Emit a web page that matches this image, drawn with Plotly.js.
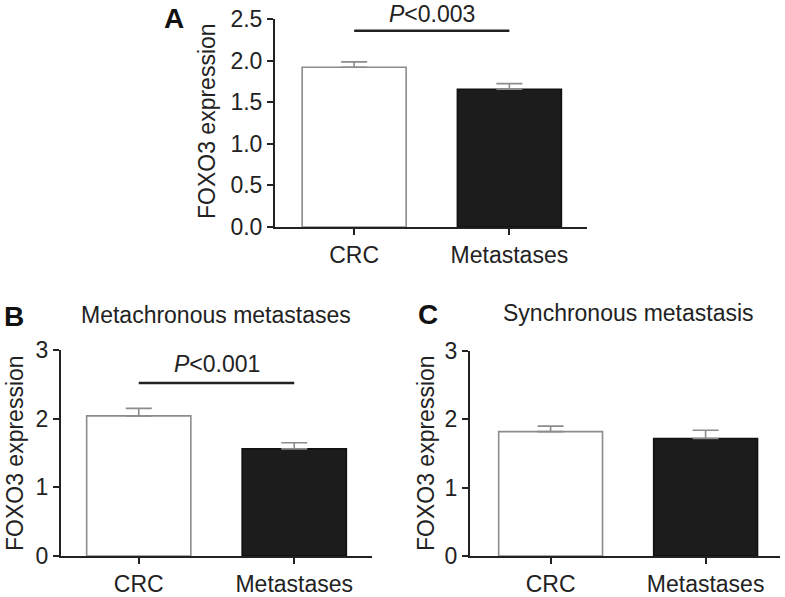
<!DOCTYPE html>
<html>
<head>
<meta charset="utf-8">
<script src="https://cdn.plot.ly/plotly-3.0.1.min.js"></script>
<style>html,body{margin:0;padding:0;background:#fff;}#chart{width:785px;height:597px;}</style>
</head>
<body>
<div id="chart"></div>
<script>
// ---- data ----
const categories = ['CRC', 'Metastases'];
const meansA = [1.92, 1.655];
const semA = [0.065, 0.068];
const meansB = [2.04, 1.56];
const semB = [0.11, 0.09];
const meansC = [1.82, 1.72];
const semC = [0.08, 0.12];
const sigA = 2.36;
const sigB = 2.52;
const ticksA = [0, 0.5, 1, 1.5, 2, 2.5];
const tickTextA = ['0.0', '0.5', '1.0', '1.5', '2.0', '2.5'];
const ticksBC = [0, 1, 2, 3];
const yTitle = 'FOXO3 expression';
const titleB = 'Metachronous metastases';
const titleC = 'Synchronous metastasis';
const pA = '<i>P</i>&lt;0.003';
const pB = '<i>P</i>&lt;0.001';

const W = 785, H = 597;
const px = v => v / W;
const py = v => 1 - v / H;
const FONT = 'Liberation Sans, Arial, sans-serif';
const TXT = '#222';
const FS = 23;
const fillColors = ['#ffffff', '#1c1c1c'];
const lineColors = ['#8c8c8c', '#111111'];

function barTrace(means, sem, xa, ya) {
  return {
    type: 'bar', x: categories, y: means, xaxis: xa, yaxis: ya,
    width: 0.67,
    marker: { color: fillColors, line: { color: lineColors, width: 1.6 } },
    error_y: { type: 'data', array: sem, symmetric: false, arrayminus: [0, 0],
               color: '#8c8c8c', thickness: 1.6, width: 13 },
    hoverinfo: 'skip', showlegend: false
  };
}

const data = [
  barTrace(meansA, semA, 'x', 'y'),
  barTrace(meansB, semB, 'x2', 'y2'),
  barTrace(meansC, semC, 'x3', 'y3')
];

function xAxis(domain, range, anchor) {
  return {
    domain: domain, range: range, anchor: anchor, type: 'category',
    showline: true, linecolor: '#222', linewidth: 2,
    ticks: 'outside', ticklen: 6, tickwidth: 2, tickcolor: '#222',
    tickfont: { family: FONT, size: FS, color: TXT },
    showgrid: false, zeroline: false, fixedrange: true, ticklabelstandoff: 0
  };
}
function yAxis(domain, range, anchor, tv, tt) {
  return {
    domain: domain, range: range, anchor: anchor,
    showline: true, linecolor: '#222', linewidth: 2,
    ticks: 'outside', ticklen: 6, tickwidth: 2, tickcolor: '#222',
    tickvals: tv, ticktext: tt,
    tickfont: { family: FONT, size: FS, color: TXT },
    showgrid: false, zeroline: false, fixedrange: true
  };
}

function label(text, x, y, opts) {
  return Object.assign({
    text: text, xref: 'paper', yref: 'paper', x: px(x), y: py(y), showarrow: false,
    xanchor: 'center', yanchor: 'middle',
    font: { family: FONT, size: FS, color: TXT }
  }, opts || {});
}

const layout = {
  width: W, height: H,
  margin: { l: 0, r: 0, t: 0, b: 0 },
  paper_bgcolor: '#fff', plot_bgcolor: 'rgba(0,0,0,0)',
  showlegend: false,
  xaxis: xAxis([px(275), px(587)], [-0.51, 1.5], 'y'),
  yaxis: yAxis([py(227), py(19)], [0, 2.5], 'x', ticksA, tickTextA),
  xaxis2: xAxis([px(61), px(372)], [-0.5, 1.5], 'y2'),
  yaxis2: yAxis([py(556), py(350)], [0, 3], 'x2', ticksBC, ticksBC.map(String)),
  xaxis3: xAxis([px(470), px(780)], [-0.52, 1.48], 'y3'),
  yaxis3: yAxis([py(556), py(351)], [0, 3], 'x3', ticksBC, ticksBC.map(String)),
  shapes: [
    { type: 'line', xref: 'x', yref: 'y', x0: categories[0], x1: categories[1], y0: sigA, y1: sigA,
      line: { color: '#222', width: 2.5 } },
    { type: 'line', xref: 'x2', yref: 'y2', x0: categories[0], x1: categories[1], y0: sigB, y1: sigB,
      line: { color: '#222', width: 2.5 } }
  ],
  annotations: [
    label('<b>A</b>', 174, 18, { font: { family: FONT, size: 28, color: '#111' } }),
    label('<b>B</b>', 14, 316, { font: { family: FONT, size: 28, color: '#111' } }),
    label('<b>C</b>', 428, 314, { font: { family: FONT, size: 28, color: '#111' } }),
    label(yTitle, 207, 121, { textangle: -90 }),
    label(yTitle, 15, 453, { textangle: -90 }),
    label(yTitle, 426, 453, { textangle: -90 }),
    label(titleB, 216, 315),
    label(titleC, 628, 313),
    Object.assign(label(pA, 0, 14), { xref: 'x', x: 0.5 }),
    Object.assign(label(pB, 0, 364), { xref: 'x2', x: 0.5 })
  ]
};

Plotly.newPlot('chart', data, layout, { displayModeBar: false, staticPlot: true });
</script>
</body>
</html>
